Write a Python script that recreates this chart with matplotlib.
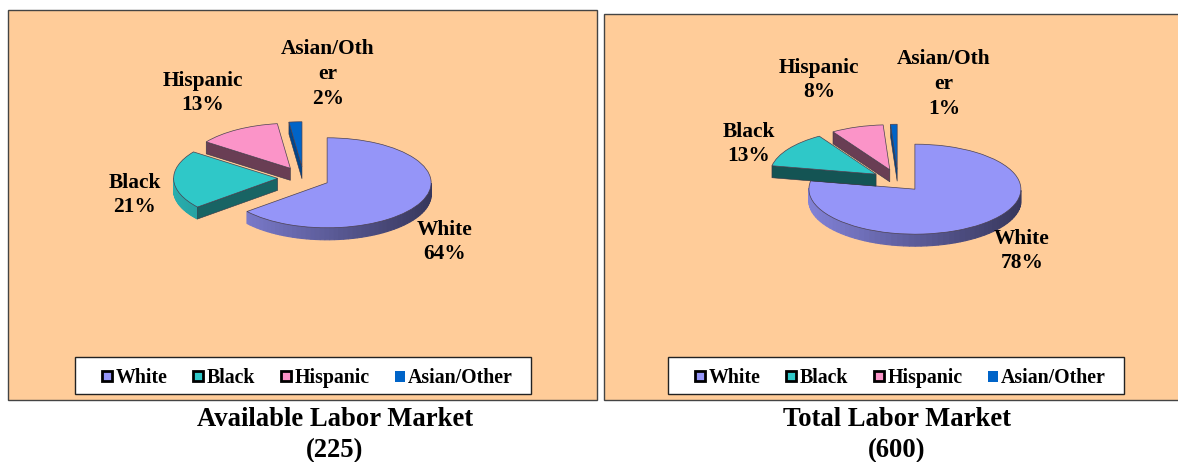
import numpy as np
import matplotlib
matplotlib.use('Agg')
import matplotlib.pyplot as plt
from matplotlib.patches import Rectangle
from matplotlib.colors import to_rgb

W, H = 1178, 462

groups = ['White', 'Black', 'Hispanic', 'Asian/Other']
point_labels = ['White', 'Black', 'Hispanic', 'Asian/Oth\ner']
available = [64, 21, 13, 2]
total = [78, 13, 8, 1]
titles = ['Available Labor Market\n(225)', 'Total Labor Market\n(600)']

colors = ['#9595F8', '#2FC8C8', '#FB94C8', '#0064C8']
bg = '#FFCC99'
font = 'Liberation Serif'

fig = plt.figure(figsize=(W / 100, H / 100), dpi=100, facecolor='white')

# pixel coordinates for panels, legends
page = fig.add_axes([0, 0, 1, 1], zorder=0)
page.set_xlim(0, W)
page.set_ylim(H, 0)
page.axis('off')


def txt(x, y, s, size=15.4, spacing=1.3):
    fig.text(x / W, 1 - y / H, s, ha='center', va='center', fontsize=size,
             fontweight='bold', family=font, linespacing=spacing, zorder=5)


def shade(c, k):
    return tuple(v * k for v in to_rgb(c))


def draw_pie(values, cx, cy, rx, ry, depth, face_k):
    # axes spans 2 radii each way so one data unit is one radius
    ax = fig.add_axes([(cx - 2 * rx) / W, 1 - (cy + 2 * ry) / H, 4 * rx / W, 4 * ry / H], zorder=1)
    wedges, _ = ax.pie(values, colors=colors, startangle=90, counterclock=False,
                       explode=[0.25] * len(values), radius=1,
                       wedgeprops=dict(edgecolor='#4a4050', linewidth=0.5))
    ax.set_aspect('auto')
    ax.set_xlim(-2, 2)
    ax.set_ylim(-2, 2)
    ax.patch.set_alpha(0)
    d = depth / ry

    for i, w in enumerate(wedges):
        w.set_zorder(10 + 2 * i + 1)
        ox, oy = w.center
        t1, t2 = w.theta1, w.theta2

        # rim, only the lower half shows
        ang = np.linspace(t1, t2, 90)
        for a, b in zip(ang[:-1], ang[1:]):
            ra, rb = np.radians(a), np.radians(b)
            if np.sin((ra + rb) / 2) > 0:
                continue
            xs = ox + np.array([np.cos(ra), np.cos(rb), np.cos(rb), np.cos(ra)])
            ys = oy + np.array([np.sin(ra), np.sin(rb), np.sin(rb) - d, np.sin(ra) - d])
            k = 0.62 - 0.25 * np.cos((ra + rb) / 2)
            c = shade(colors[i], k)
            ax.fill(xs, ys, facecolor=c, edgecolor=c, lw=0.8, zorder=10 + 2 * i)

        # straight cut faces turned towards the viewer
        for t, n in ((t1, t1 - 90), (t2, t2 + 90)):
            if np.sin(np.radians(n)) < -0.02:
                ex, ey = np.cos(np.radians(t)), np.sin(np.radians(t))
                ax.fill([ox, ox + ex, ox + ex, ox], [oy, oy + ey, oy + ey - d, oy - d],
                        facecolor=shade(colors[i], face_k[i]), edgecolor='#333344',
                        lw=0.4, zorder=10 + 2 * i)


def draw_legend(dx):
    page.add_patch(Rectangle((75 + dx, 357), 456, 37, fc='white', ec='#222222', lw=1, zorder=2))
    swatch_x = [101, 192, 280, 395]
    text_x = [116, 207, 295, 408]
    for i, name in enumerate(groups):
        if i < 3:
            page.add_patch(Rectangle((swatch_x[i] + 1 + dx, 371), 10, 10, fc=colors[i], ec='black', lw=2, zorder=3))
        else:
            page.add_patch(Rectangle((swatch_x[i] + dx, 371), 10, 11, fc=colors[i], ec='none', zorder=3))
        page.text(text_x[i] + dx, 378, name, ha='left', va='center', fontsize=14.3,
                  fontweight='bold', family=font, zorder=3)


# panels
page.add_patch(Rectangle((8, 10), 589, 390, fc=bg, ec='#444444', lw=1))
page.add_patch(Rectangle((604, 14), 590, 386, fc=bg, ec='#444444', lw=1))

draw_pie(available, 303.6, 178, 104, 45, 12, [0.5, 0.5, 0.42, 0.7])
draw_pie(total, 898, 180.5, 106, 45, 12, [0.5, 0.42, 0.42, 0.7])
draw_legend(0)
draw_legend(593)

txt(328, 74, f'{point_labels[3]}\n{available[3]}%')
txt(203, 93, f'{point_labels[2]}\n{available[2]}%')
txt(135, 195, f'{point_labels[1]}\n{available[1]}%')
txt(445, 242, f'{point_labels[0]}\n{available[0]}%')

txt(944, 84, f'{point_labels[3]}\n{total[3]}%')
txt(819, 80, f'{point_labels[2]}\n{total[2]}%')
txt(749, 144, f'{point_labels[1]}\n{total[1]}%')
txt(1022, 251, f'{point_labels[0]}\n{total[0]}%')

txt(335, 435, titles[0], size=19.2, spacing=1.32)
txt(897, 435, titles[1], size=19.2, spacing=1.32)

fig.savefig('out.png', dpi=100)
